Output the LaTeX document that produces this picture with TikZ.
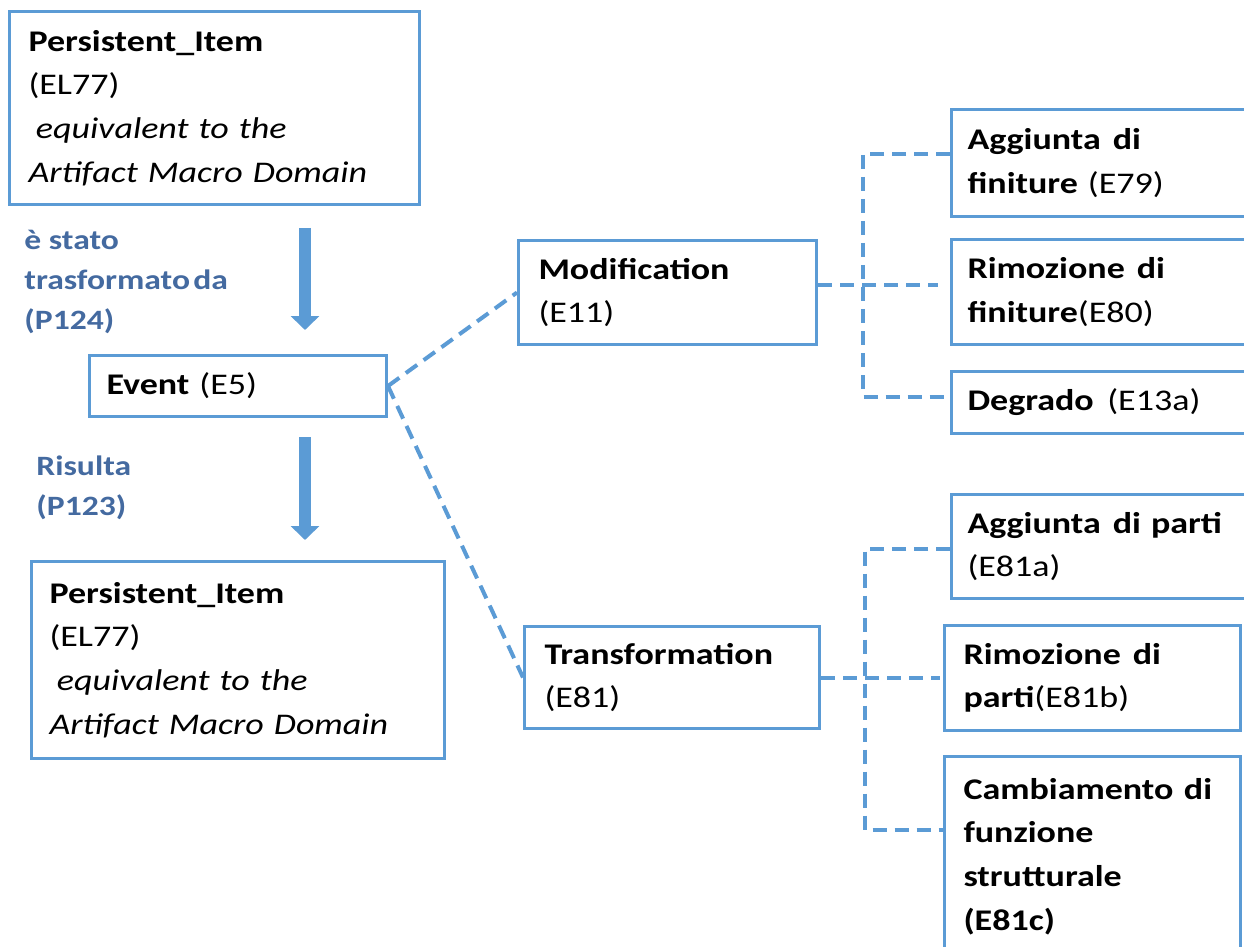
\documentclass[tikz,border=0pt]{standalone}
\usepackage{fontspec}
\setmainfont{Carlito}[FakeStretch=1.2]
\usetikzlibrary{calc,arrows.meta}
\definecolor{boxblue}{RGB}{91,155,213}
\definecolor{labelblue}{RGB}{68,106,160}
\newcommand\diagfont{\fontsize{15}{21.8}\selectfont}
\newcommand\lblfont{\fontsize{14}{20}\selectfont\bfseries}

\begin{document}
\begin{tikzpicture}[x=0.5pt,y=-0.5pt,
  box/.style={draw=boxblue, line width=1.5pt, rectangle, anchor=north west,
              align=left, inner ysep=2pt, font=\diagfont},
  lbl/.style={anchor=north west, align=left, inner sep=0pt, text=labelblue, font=\lblfont},
  link/.style={draw=boxblue, line width=2pt, dash pattern=on 7pt off 4pt},
  flow/.style={draw=boxblue, line width=6pt, -{Triangle[length=7pt,width=14pt]}}
]
\useasboundingbox (0,0) rectangle (1244,947);

% left column
\node[box, inner xsep=9.5pt, text width=186pt, minimum height=96.5pt] (itemA) at (8,10)
  {\textbf{Persistent\_Item}\\(EL77)\\\hspace*{0.25em}\textit{equivalent to the}\\\textit{Artifact Macro Domain}};
\node[box, inner xsep=8.5pt, text width=131.5pt, minimum height=30.5pt] (event) at (88,354)
  {\textbf{Event} (E5)};
\node[box, inner xsep=9pt, text width=188.5pt, minimum height=98.5pt] (itemB) at (30,560)
  {\textbf{Persistent\_Item}\\(EL77)\\\hspace*{0.25em}\textit{equivalent to the}\\\textit{Artifact Macro Domain}};

\node[lbl] (lblA) at (24,230) {è stato\\trasformato\hspace{0.12em}da\\(P124)};
\node[lbl] (lblB) at (36,455) {Risulta\\(P123)};

\coordinate (a1s) at (305,228);
\coordinate (a1e) at (305,330);
\coordinate (a2s) at (305,437);
\coordinate (a2e) at (305,540);
\draw[flow] (a1s) -- (a1e);
\draw[flow] (a2s) -- (a2e);

% middle column
\node[box, inner xsep=10pt, text width=129pt, minimum height=52pt] (mod) at (517,239)
  {\textbf{Modification}\\(E11)};
\node[box, inner xsep=10pt, text width=127.5pt, minimum height=51pt] (trans) at (523,625)
  {\textbf{Transformation}\\(E81)};

\draw[link] (event.east) -- (mod.west);
\draw[link] (event.east) -- (trans.west);

% right column, first group
\node[box, inner xsep=8pt, text width=144pt, minimum height=53.5pt] (fadd) at (950,108)
  {\textbf{Aggiunta\hspace{0.4em}di}\\\textbf{finiture} (E79)};
\node[box, inner xsep=8pt, text width=144pt, minimum height=52.5pt] (frem) at (950,238)
  {\textbf{Rimozione\hspace{0.4em}di}\\\textbf{finiture}(E80)};
\node[box, inner xsep=8pt, text width=144pt, minimum height=31pt] (degr) at (950,370)
  {\textbf{Degrado}\hspace{0.45em}(E13a)};

% right column, second group
\node[box, inner xsep=8pt, text width=144pt, minimum height=52pt] (padd) at (950,493)
  {\textbf{Aggiunta\hspace{0.4em}di parti}\\(E81a)};
\node[box, inner xsep=9.5pt, text width=129pt, minimum height=52.5pt] (prem) at (943,624)
  {\textbf{Rimozione\hspace{0.4em}di}\\\textbf{parti}(E81b)};
\node[box, inner xsep=9.5pt, text width=129pt, minimum height=100pt] (cfun) at (943,755)
  {\textbf{Cambiamento\hspace{0.35em}di}\\\textbf{funzione}\\\textbf{strutturale}\\\textbf{(E81c)}};

% dashed trees
\coordinate (trunkA) at (863,0);
\coordinate (trunkB) at (865,0);
\coordinate (faddIn) at ($(fadd.west)+(0,-9)$);
\coordinate (degrIn) at ($(degr.west)+(0,-6)$);
\coordinate (modOut) at ($(mod.east)+(0,-7)$);
\draw[link] (faddIn) -- (faddIn -| trunkA) -- (degrIn -| trunkA) -- (degrIn);
\draw[link, shorten >=6pt] (modOut) -- (modOut -| frem.west);

\coordinate (paddIn) at ($(padd.west)+(0,2)$);
\coordinate (cfunIn) at ($(cfun.north west)+(0,75)$);
\draw[link] (paddIn) -- (paddIn -| trunkB) -- (cfunIn -| trunkB) -- (cfunIn);
\draw[link, shorten >=1.5pt] (trans.east) -- (trans.east -| prem.west);
\end{tikzpicture}
\end{document}
